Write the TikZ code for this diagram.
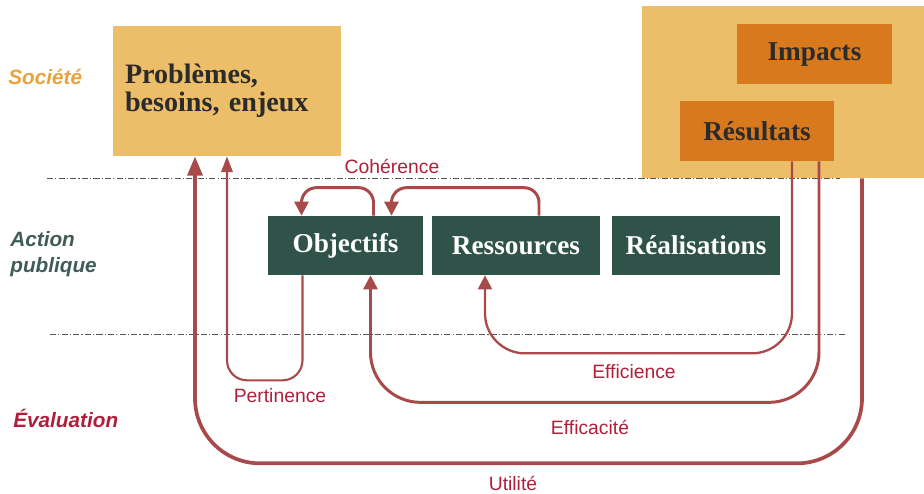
\documentclass[tikz,border=0pt]{standalone}
\usepackage{fontspec}
\setmainfont{Liberation Serif}
\setsansfont{Liberation Sans}
\usetikzlibrary{arrows.meta,calc}

\definecolor{sable}{HTML}{EDBE6A}
\definecolor{orangefonce}{HTML}{D9791E}
\definecolor{vertfonce}{HTML}{2F5249}
\definecolor{brique}{HTML}{A94A4A}
\definecolor{carmin}{HTML}{B01F3A}
\definecolor{encre}{HTML}{2B2B2B}
\definecolor{gris}{HTML}{555555}
\definecolor{ocre}{HTML}{E9A33E}
\definecolor{ardoise}{HTML}{3F5C57}

\begin{document}
\begin{tikzpicture}[x=0.02cm, y=-0.02cm,
  box/.style={rectangle, inner sep=0pt, font=\bfseries\fontsize{15.5}{19}\selectfont},
  societe/.style={box, fill=sable, text=encre},
  effet/.style={box, fill=orangefonce, text=encre, minimum width=3.1cm, minimum height=1.2cm},
  action/.style={box, fill=vertfonce, text=white, minimum height=1.18cm},
  fleche/.style={draw=brique, line width=1.7pt, -{Triangle[width=8pt,length=8pt]}},
  critere/.style={text=carmin, font=\sffamily\fontsize{11}{13}\selectfont},
  niveau/.style={anchor=west, align=left, inner sep=0pt, font=\sffamily\bfseries\itshape\fontsize{11.8}{14.5}\selectfont},
  separation/.style={draw=gris, line width=0.5pt, dash pattern=on 3.5pt off 1.2pt on 0.7pt off 1.2pt}]
  \useasboundingbox (0,0) rectangle (924,494);
  % niveaux
  \node [niveau, text=ocre] (soc) at (8,77) {Société};
  \node [niveau, text=ardoise] (act) at (10,254) {Action\\publique};
  \node [niveau, text=carmin] (eva) at (13,418) {Évaluation};
  \draw [separation] (47,178) -- (840,178);
  \draw [separation] (50,334) -- (845,334);
  % boites
  \node [societe, text width=4.08cm, inner xsep=0.24cm, minimum height=2.6cm, align=left,
    font=\bfseries\fontsize{16}{16}\selectfont] (pb) at (227,91) {Problèmes,\\besoins, enjeux};
  \node [societe, minimum width=5.64cm, minimum height=3.44cm] (out) at (783,92) {};
  \node [effet] (imp) at (814.5,54) {Impacts};
  \node [effet] (resu) at (757,131) {Résultats};
  \node [action, minimum width=3.1cm] (obj) at (345.5,245.5) {Objectifs};
  \node [action, minimum width=3.36cm] (ress) at (516,245.5) {Ressources};
  \node [action, minimum width=3.36cm] (real) at (696,245.5) {Réalisations};
  % criteres
  \draw [fleche, rounded corners=0.3cm] ($(obj.north)+(28,0)$) -- ++(0,-28) -| ($(obj.north)+(-44,0)$);
  \draw [fleche, rounded corners=0.3cm] ($(ress.north)+(23,0)$) -- ++(0,-28) -| ($(obj.north)+(46,0)$);
  \draw [fleche, line width=1.2pt, -{Triangle[width=6.5pt,length=9pt]}, rounded corners=0.4cm] ($(obj.south)+(-43,0)$) -- ++(0,105) -| (pb.south);
  \draw [fleche, line width=1.3pt, rounded corners=0.8cm] ($(resu.south)+(35,0)$) -- ++(0,192) -| ($(ress.south)+(-31,0)$);
  \draw [fleche, rounded corners=1cm] ($(resu.south)+(62,0)$) -- ++(0,241) -| ($(obj.south)+(25,0)$);
  \draw [fleche, line width=2.1pt, -{Triangle[width=8.5pt,length=11pt]}, rounded corners=1.3cm] ($(out.south)+(79,0)$) -- ++(0,285) -| ($(pb.south)+(-32,0)$);
  \node [critere] (coh) at (392,166) {Cohérence};
  \node [critere] (per) at (280,396) {Pertinence};
  \node [critere] (eff) at (634,372) {Efficience};
  \node [critere] (efc) at (590,427) {Efficacité};
  \node [critere] (uti) at (513,483) {Utilité};
\end{tikzpicture}
\end{document}
